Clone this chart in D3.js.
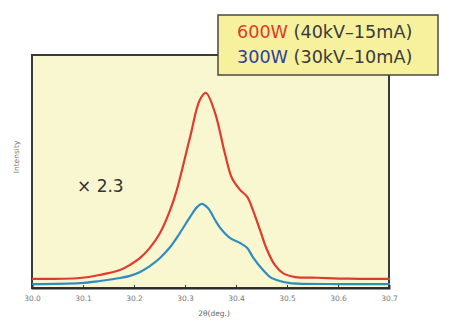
<!DOCTYPE html>
<html><head><meta charset="utf-8">
<script src="https://cdn.jsdelivr.net/npm/d3@7"></script>
<style>body{margin:0;background:#fff}svg{display:block}</style>
</head><body>
<script>
const xTicks = [30.0,30.1,30.2,30.3,30.4,30.5,30.6,30.7];
const xTickLabels = ["30.0","30.1","30.2","30.3","30.4","30.5","30.6","30.7"];
const redX = [30.000,30.094,30.133,30.1725,30.192,30.212,30.231,30.251,30.271,30.284,30.310,30.329,30.341,30.359,30.378,30.392,30.408,30.422,30.433,30.447,30.461,30.476,30.492,30.516,30.560,30.620,30.702];
const redY = [3.9,4.3,5.6,7.7,9.9,12.9,17.2,23.6,33.5,42.1,64.8,80.7,83.7,75.1,57.9,47.2,42.1,39.1,33.5,24.9,16.3,9.9,6.4,4.7,4.4,4.0,3.9];
const blueX = [30.000,30.094,30.133,30.1725,30.192,30.212,30.231,30.251,30.271,30.290,30.310,30.324,30.333,30.345,30.359,30.369,30.388,30.408,30.422,30.433,30.453,30.467,30.486,30.506,30.604,30.702];
const blueY = [1.7,2.1,3.0,4.3,5.2,6.9,9.4,12.9,17.6,23.6,30.5,34.8,36.1,34.3,29.2,25.8,21.5,19.3,17.2,13.3,7.7,4.7,3.0,2.1,1.7,1.7];

const W=456,H=325;
const L=32,R=389,T=55,B=288;
const svg=d3.select("body").append("svg").attr("width",W).attr("height",H);
const x=d3.scaleLinear().domain([30.0,30.7]).range([L,R]);
const y=d3.scaleLinear().domain([0,100]).range([B,T]);

svg.append("rect").attr("x",L).attr("y",T).attr("width",R-L).attr("height",B-T)
  .attr("fill","#f9f7d0").attr("stroke","#3a3a36").attr("stroke-width",2);

const line=d3.line().x(d=>x(d[0])).y(d=>y(d[1])).curve(d3.curveCatmullRom.alpha(0.5));
svg.append("path").datum(blueX.map((v,i)=>[v,blueY[i]])).attr("d",line)
  .attr("fill","none").attr("stroke","#2f8cc0").attr("stroke-width",2.2);
svg.append("path").datum(redX.map((v,i)=>[v,redY[i]])).attr("d",line)
  .attr("fill","none").attr("stroke","#e23a2e").attr("stroke-width",2.2);

const ax=svg.append("g").attr("transform",`translate(0,${B})`)
  .call(d3.axisBottom(x).tickValues(xTicks).tickFormat((d,i)=>xTickLabels[i]).tickSize(-3).tickPadding(8));
ax.select(".domain").attr("stroke","#2a2a28").attr("stroke-width",2);
ax.selectAll(".tick line").attr("stroke","#333");
ax.selectAll(".tick text").attr("fill","#777").attr("font-family","DejaVu Sans").attr("font-size",7.5);

svg.append("text").attr("x",214).attr("y",316).attr("text-anchor","middle")
  .attr("font-family","DejaVu Sans").attr("font-size",7.5).attr("fill","#666").text("2θ(deg.)");
svg.append("text").attr("transform","translate(19,157) rotate(-90)").attr("text-anchor","middle")
  .attr("font-family","DejaVu Sans").attr("font-size",7.5).attr("fill","#777").text("Intensity");

svg.append("text").attr("x",77).attr("y",192).attr("font-family","DejaVu Sans")
  .attr("font-size",17).attr("fill","#333").text("× 2.3");

const lg=svg.append("g");
lg.append("rect").attr("x",218).attr("y",15).attr("width",220).attr("height",60)
  .attr("fill","#f7f19e").attr("stroke","#4a4a44").attr("stroke-width",1.5);
const t1=lg.append("text").attr("x",237).attr("y",38).attr("font-family","DejaVu Sans").attr("font-size",17.6).attr("fill","#3a3a3a");
t1.append("tspan").attr("fill","#e03a26").text("600W");
t1.append("tspan").text(" (40kV–15mA)");
const t2=lg.append("text").attr("x",237).attr("y",63).attr("font-family","DejaVu Sans").attr("font-size",17.6).attr("fill","#3a3a3a");
t2.append("tspan").attr("fill","#2e3f9e").text("300W");
t2.append("tspan").text(" (30kV–10mA)");
</script>
</body></html>
